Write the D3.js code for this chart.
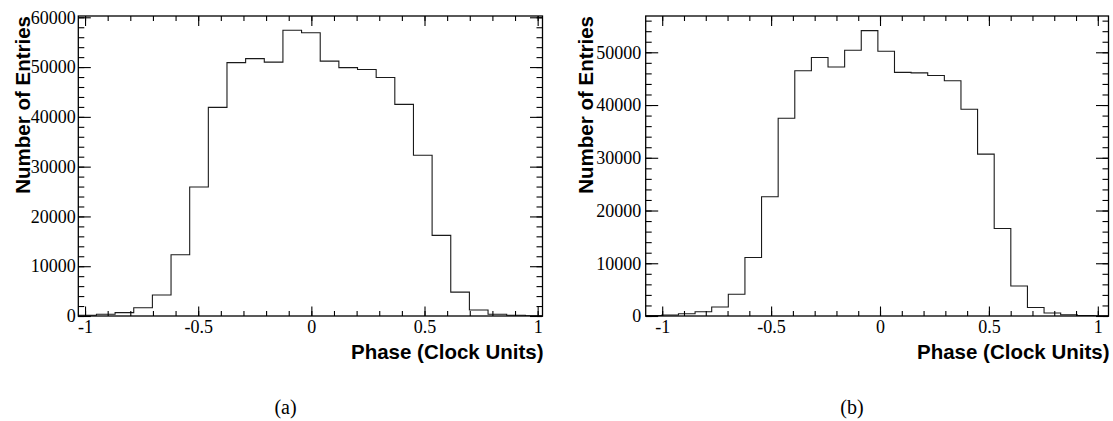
<!DOCTYPE html>
<html>
<head>
<meta charset="utf-8">
<script src="https://cdn.jsdelivr.net/npm/d3@7"></script>
<style>
  html, body { margin: 0; padding: 0; background: #fff; }
  svg { display: block; }
</style>
</head>
<body>
<svg id="chart" width="1113" height="421"></svg>
<script>
// ---------------- data ----------------
// Panel (a): histogram definition and bin contents
const binStartA = -1.032;
const binWidthA = 0.0824;
const countsA = [160, 340, 680, 1670, 4220, 12300, 25900, 41900, 50900, 51700,
                 51000, 57400, 56900, 51200, 49900, 49500, 47900, 42500, 32300, 16200,
                 4800, 1200, 350, 150, 50];

// Panel (b)
const binStartB = -1.078;
const binWidthB = 0.0763;
const countsB = [100, 190, 420, 820, 1710, 4110, 11100, 22600, 37500, 46500,
                 49000, 47200, 50400, 54100, 50200, 46200, 46100, 45600, 44600, 39200,
                 30700, 16600, 5700, 1600, 560, 250, 80, 20];

const xMajorTicks = [-1, -0.5, 0, 0.5, 1];
const xTickLabels = ["-1", "-0.5", "0", "0.5", "1"];
const xMinorTicks = [-1, -0.9, -0.8, -0.7, -0.6, -0.5, -0.4, -0.3, -0.2, -0.1, 0,
                     0.1, 0.2, 0.3, 0.4, 0.5, 0.6, 0.7, 0.8, 0.9, 1];
const yMajorTicksA = [0, 10000, 20000, 30000, 40000, 50000, 60000];
const yMajorTicksB = [0, 10000, 20000, 30000, 40000, 50000];
const yMinorStep = 2000;

const xTitle = "Phase (Clock Units)";
const yTitle = "Number of Entries";
const captions = ["(a)", "(b)"];

// ---------------- layout ----------------
const panels = [
  { left: 78.3, right: 542.5, top: 16, bottom: 316,
    xDomain: [-1.0298, 1.0214], yMax: 60260,
    binStart: binStartA, binWidth: binWidthA, counts: countsA, yTicks: yMajorTicksA,
    yLabelPad: 2.5, yTitleX: 30, captionX: 285.5, caption: captions[0] },
  { left: 645.7, right: 1108.5, top: 16, bottom: 316,
    xDomain: [-1.0758, 1.0491], yMax: 56880,
    binStart: binStartB, binWidth: binWidthB, counts: countsB, yTicks: yMajorTicksB,
    yLabelPad: 4.5, yTitleX: 593, captionX: 852, caption: captions[1] }
];

const svg = d3.select("#chart");
const serif = "'Liberation Serif', 'Times New Roman', serif";
const sans = "'Liberation Sans', Arial, Helvetica, sans-serif";

panels.forEach((p, pi) => {
  const x = d3.scaleLinear().domain(p.xDomain).range([p.left, p.right]);
  const y = d3.scaleLinear().domain([0, p.yMax]).range([p.bottom, p.top]);
  const g = svg.append("g");

  const clipId = "clip" + pi;
  svg.append("defs").append("clipPath").attr("id", clipId)
    .append("rect").attr("x", p.left).attr("y", p.top - 2)
    .attr("width", p.right - p.left).attr("height", p.bottom - p.top + 2);

  // histogram outline
  const pts = p.counts.map((c, i) => ({ e: p.binStart + i * p.binWidth, c }));
  pts.push({ e: p.binStart + p.counts.length * p.binWidth, c: p.counts[p.counts.length - 1] });
  const line = d3.line().x(d => x(d.e)).y(d => y(d.c)).curve(d3.curveStepAfter);
  const path = [{ e: pts[0].e, c: 0 }].concat(pts).concat([{ e: pts[pts.length - 1].e, c: 0 }]);
  g.append("path")
    .attr("clip-path", `url(#${clipId})`)
    .attr("d", line(path))
    .attr("fill", "none")
    .attr("stroke", "#1a1a1a")
    .attr("stroke-width", 1.1);

  // minor ticks
  const yMinor = d3.range(0, p.yMax, yMinorStep);
  const minorX = xMinorTicks.filter(v => v >= p.xDomain[0] && v <= p.xDomain[1]);

  const styleAxis = sel => {
    sel.select(".domain").remove();
    sel.selectAll("line").attr("stroke", "#000").attr("stroke-width", 1.1);
  };

  // bottom axis
  g.append("g").attr("transform", `translate(0,${p.bottom})`)
    .call(d3.axisBottom(x).tickValues(minorX).tickSize(-5).tickFormat(""))
    .call(styleAxis);
  g.append("g").attr("transform", `translate(0,${p.bottom})`)
    .call(d3.axisBottom(x).tickValues(xMajorTicks).tickSize(-9.5).tickPadding(4.5)
      .tickFormat((d, i) => xTickLabels[i]))
    .call(styleAxis)
    .call(s => s.selectAll("text").attr("font-family", serif).attr("font-size", 18).attr("fill", "#000"));
  // top axis
  g.append("g").attr("transform", `translate(0,${p.top})`)
    .call(d3.axisTop(x).tickValues(minorX).tickSize(-5).tickFormat(""))
    .call(styleAxis);
  g.append("g").attr("transform", `translate(0,${p.top})`)
    .call(d3.axisTop(x).tickValues(xMajorTicks).tickSize(-10).tickFormat(""))
    .call(styleAxis);
  // left axis
  g.append("g").attr("transform", `translate(${p.left},0)`)
    .call(d3.axisLeft(y).tickValues(yMinor).tickSize(-6).tickFormat(""))
    .call(styleAxis);
  g.append("g").attr("transform", `translate(${p.left},0)`)
    .call(d3.axisLeft(y).tickValues(p.yTicks).tickSize(-12.5).tickPadding(p.yLabelPad)
      .tickFormat(d3.format("d")))
    .call(styleAxis)
    .call(s => s.selectAll("text").attr("font-family", serif).attr("font-size", 18).attr("fill", "#000"));
  // right axis
  g.append("g").attr("transform", `translate(${p.right},0)`)
    .call(d3.axisRight(y).tickValues(yMinor).tickSize(-6).tickFormat(""))
    .call(styleAxis);
  g.append("g").attr("transform", `translate(${p.right},0)`)
    .call(d3.axisRight(y).tickValues(p.yTicks).tickSize(-12.5).tickFormat(""))
    .call(styleAxis);

  // frame
  g.append("rect")
    .attr("x", p.left).attr("y", p.top)
    .attr("width", p.right - p.left).attr("height", p.bottom - p.top)
    .attr("fill", "none").attr("stroke", "#000").attr("stroke-width", 1.3);

  // axis titles
  g.append("text")
    .attr("x", p.right + 1).attr("y", 359)
    .attr("text-anchor", "end")
    .attr("font-family", sans).attr("font-weight", "bold").attr("font-size", 20.5)
    .attr("fill", "#000")
    .text(xTitle);
  g.append("text")
    .attr("transform", `translate(${p.yTitleX},${p.top})rotate(-90)`)
    .attr("text-anchor", "end")
    .attr("font-family", sans).attr("font-weight", "bold").attr("font-size", 20.5)
    .attr("fill", "#000")
    .text(yTitle);

  // caption
  g.append("text")
    .attr("x", p.captionX).attr("y", 414)
    .attr("text-anchor", "middle")
    .attr("font-family", serif).attr("font-size", 20)
    .attr("fill", "#000")
    .text(p.caption);
});
</script>
</body>
</html>
